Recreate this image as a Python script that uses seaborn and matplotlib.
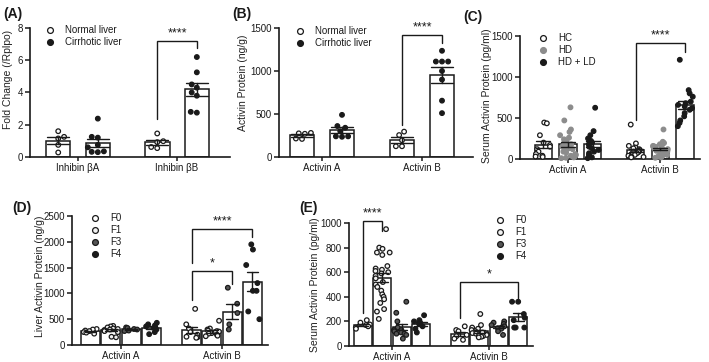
import numpy as np
import pandas as pd
import seaborn as sns
import matplotlib.pyplot as plt
from matplotlib.lines import Line2D
from matplotlib.colors import to_rgba

# ==============================
# Data
# ==============================
# (A) Fold change in liver tissue
a_cats = ['Inhibin βA', 'Inhibin βB']
a_groups = ['Normal liver', 'Cirrhotic liver']
a_normal_ba = [1.6, 1.25, 1.15, 0.75, 0.28]
a_cirr_ba = [2.38, 1.25, 1.2, 0.75, 0.6, 0.35, 0.32, 0.3]
a_normal_bb = [1.46, 0.98, 0.92, 0.62, 0.55]
a_cirr_bb = [6.2, 5.25, 4.5, 4.3, 4.0, 3.8, 2.8, 2.75]

# (B) Activin protein in liver tissue
b_cats = ['Activin A', 'Activin B']
b_groups = ['Normal liver', 'Cirrhotic liver']
b_normal_a = [280, 275, 270, 215, 210]
b_cirr_a = [490, 360, 340, 300, 240, 240, 235]
b_normal_b = [295, 255, 195, 125, 125]
b_cirr_b = [1235, 1110, 1110, 1110, 1000, 900, 655, 510]

# (C) Serum activin, HC / HD / HD + LD
c_cats = ['Activin A', 'Activin B']
c_groups = ['HC', 'HD', 'HD + LD']
c_hc_a = [445, 435, 290, 200, 170, 150, 120, 90, 60, 40, 30, 25]
c_hd_a = [630, 470, 360, 330, 290, 260, 240, 220, 200, 180, 170, 150,
          130, 120, 100, 90, 80, 60, 50, 40, 30, 20, 15, 10]
c_hdld_a = [625, 340, 290, 250, 220, 200, 180, 150, 130, 110, 90, 70, 50, 20, 10]
c_hc_b = [420, 190, 160, 140, 130, 120, 110, 100, 95, 90, 85, 80, 70, 60,
          50, 40, 30, 25, 20]
c_hd_b = [360, 210, 195, 180, 170, 160, 155, 150, 145, 140, 135, 130, 125,
          120, 115, 110, 105, 100, 95, 90, 85, 80, 75, 70, 60, 50, 40, 30, 20, 15]
c_hdld_b = [1210, 840, 800, 760, 700, 680, 660, 640, 620, 600, 560, 520, 470, 440, 400]

# (D) Liver activin by fibrosis stage
d_cats = ['Activin A', 'Activin B']
d_groups = ['F0', 'F1', 'F3', 'F4']
d_f0_a = [310, 300, 280, 270, 250, 240, 220]
d_f1_a = [370, 360, 340, 320, 310, 300, 290, 280, 270, 250, 160, 150]
d_f3_a = [340, 330, 310, 300, 280, 270]
d_f4_a = [430, 400, 380, 360, 330, 300, 250, 210]
d_f0_b = [700, 400, 320, 250, 200, 160, 150, 140]
d_f1_b = [470, 320, 300, 280, 270, 260, 250, 230, 220, 200, 180, 170]
d_f3_b = [1110, 800, 620, 400, 300]
d_f4_b = [1950, 1850, 1550, 1200, 1050, 1050, 650, 500]

# (E) Serum activin by fibrosis stage
e_cats = ['Activin A', 'Activin B']
e_groups = ['F0', 'F1', 'F3', 'F4']
e_f0_a = [210, 190, 175, 170, 160, 150, 140]
e_f1_a = [950, 800, 790, 760, 760, 740, 650, 630, 620, 610, 600, 590, 570,
          550, 520, 500, 480, 450, 420, 400, 380, 350, 300, 280, 220]
e_f3_a = [360, 270, 200, 150, 130, 130, 120, 110, 100, 100, 90, 60]
e_f4_a = [250, 210, 200, 190, 180, 160, 140, 110]
e_f0_b = [160, 130, 120, 90, 80, 60, 50]
e_f1_b = [260, 170, 150, 140, 130, 120, 110, 105, 100, 95, 90, 85, 80, 75, 70]
e_f3_b = [200, 190, 180, 170, 160, 150, 145, 140, 120, 90]
e_f4_b = [360, 360, 260, 230, 210, 150, 150, 150]

# significance brackets: (category, hue i, hue j, left foot, top, right foot, label)
a_brackets = [(1, 0, 1, 2.36, 7.18, 6.77, '****')]
b_brackets = [(1, 0, 1, 370, 1422, 1325, '****')]
c_brackets = [(1, 0, 2, 476, 1410, 1309, '****')]
d_brackets = [(1, 0, 2, 880, 1425, 1190, '*'), (1, 0, 3, 1585, 2250, 2100, '****')]
e_brackets = [(0, 0, 1, 266, 1014, 932, '****'), (1, 0, 3, 225, 523, 390, '*')]


# ==============================
# Style
# ==============================
sns.set_theme(style='ticks')
plt.rcParams['font.family'] = ['Liberation Sans', 'DejaVu Sans']
plt.rcParams['axes.linewidth'] = 1.2
plt.rcParams['axes.edgecolor'] = '#1a1a1a'
plt.rcParams['xtick.major.size'] = 3
plt.rcParams['ytick.major.size'] = 3.5
plt.rcParams['xtick.major.width'] = 1.1
plt.rcParams['ytick.major.width'] = 1.1
plt.rcParams['xtick.major.pad'] = 1.2
plt.rcParams['ytick.major.pad'] = 1.5

W, H = 709, 362
fig = plt.figure(figsize=(W / 100, H / 100), dpi=100)
FS = 7
np.random.seed(3)   # only for the horizontal jitter of the dense panels


def to_frame(cats, groups, series):
    rows = []
    for cat, per_group in zip(cats, series):
        for grp, vals in zip(groups, per_group):
            rows += [(cat, grp, v) for v in vals]
    return pd.DataFrame(rows, columns=['cat', 'grp', 'value'])


def slot_x(cat_i, hue_i, n):
    return cat_i - 0.4 + 0.4 / n + hue_i * 0.8 / n


def draw_panel(box, df, cats, groups, faces, edges, ymax, ystep, ylabel,
               label_xy, gap, brackets, legend_xy, letter, letter_xy, jitter=None):
    left, right, top, bottom, xlim = box
    ax = fig.add_axes([left / W, 1 - bottom / H, (right - left) / W, (bottom - top) / H])

    sns.barplot(data=df, x='cat', y='value', hue='grp', order=cats, hue_order=groups,
                palette={g: 'white' for g in groups}, edgecolor='#1a1a1a', linewidth=1.1,
                gap=gap, errorbar='se', capsize=0.45,
                err_kws={'color': '#1a1a1a', 'linewidth': 1.0}, legend=False, ax=ax)
    ax.set_xlim(*xlim)
    ax.set_ylim(0, ymax)
    n_before = len(ax.collections)
    point_kws = dict(data=df, x='cat', y='value', hue='grp', order=cats, hue_order=groups,
                     palette=dict(zip(groups, faces)), dodge=True, size=3.3,
                     edgecolor='#1a1a1a', linewidth=0.9, legend=False, ax=ax)
    if jitter is None:
        sns.swarmplot(warn_thresh=1, **point_kws)
    else:
        sns.stripplot(jitter=jitter, **point_kws)
    for coll in ax.collections[n_before:]:
        coll.set_clip_on(False)
        fc = coll.get_facecolor()
        if len(fc):
            for face, edge in zip(faces, edges):
                if np.allclose(fc[0], to_rgba(face)):
                    coll.set_edgecolor(edge)
    for ln in ax.lines:
        ln.set_zorder(4)

    ax.set_xlim(*xlim)
    ax.set_ylim(0, ymax)
    ax.set_yticks(np.arange(0, ymax + ystep / 2, ystep))
    ax.tick_params(labelsize=FS, colors='#1a1a1a')
    ax.set_xlabel('')
    ax.set_ylabel(ylabel, fontsize=7.5, color='#222222')
    ax.yaxis.set_label_coords(label_xy[0] / W, 1 - label_xy[1] / H, transform=fig.transFigure)
    sns.despine(ax=ax)

    n = len(groups)
    for ci, hi, hj, y1, yt, y2, lab in brackets:
        x1, x2 = slot_x(ci, hi, n), slot_x(ci, hj, n)
        ax.plot([x1, x1, x2, x2], [y1, yt, yt, y2], color='#1a1a1a', lw=1.0,
                clip_on=False, solid_joinstyle='miter')
        ax.text((x1 + x2) / 2, yt + ymax * 0.012, lab, ha='center', va='bottom',
                fontsize=9, color='#1a1a1a', clip_on=False)

    handles = [Line2D([], [], ls='', marker='o', markersize=4.2, markerfacecolor=f,
                      markeredgecolor=e, markeredgewidth=0.9) for f, e in zip(faces, edges)]
    ax.legend(handles, groups, loc='upper left', frameon=False, fontsize=FS,
              bbox_to_anchor=(legend_xy[0] / W, 1 - legend_xy[1] / H),
              bbox_transform=fig.transFigure, borderpad=0, borderaxespad=0,
              handlelength=1.0, handletextpad=1.05, labelspacing=0.22,
              labelcolor='#1a1a1a')

    fig.text(letter_xy[0] / W, 1 - letter_xy[1] / H, letter, fontsize=10,
             fontweight='bold', va='top', ha='left', color='#1a1a1a')
    return ax


# ==============================
# Panels
# ==============================
df_a = to_frame(a_cats, a_groups, [[a_normal_ba, a_cirr_ba], [a_normal_bb, a_cirr_bb]])
df_b = to_frame(b_cats, b_groups, [[b_normal_a, b_cirr_a], [b_normal_b, b_cirr_b]])
df_c = to_frame(c_cats, c_groups, [[c_hc_a, c_hd_a, c_hdld_a], [c_hc_b, c_hd_b, c_hdld_b]])
df_d = to_frame(d_cats, d_groups, [[d_f0_a, d_f1_a, d_f3_a, d_f4_a],
                                   [d_f0_b, d_f1_b, d_f3_b, d_f4_b]])
df_e = to_frame(e_cats, e_groups, [[e_f0_a, e_f1_a, e_f3_a, e_f4_a],
                                   [e_f0_b, e_f1_b, e_f3_b, e_f4_b]])

two_faces = ['white', '#1a1a1a']
two_edges = ['#1a1a1a', '#1a1a1a']
three_faces = ['white', '#8c8c8c', '#1a1a1a']
three_edges = ['#1a1a1a', '#8c8c8c', '#1a1a1a']
four_faces = ['white', '#f2f2f2', '#555555', '#1a1a1a']
four_edges = ['#1a1a1a', '#1a1a1a', '#1a1a1a', '#1a1a1a']

draw_panel((30, 230, 28, 157, (-0.485, 1.535)), df_a, a_cats, a_groups, two_faces, two_edges,
           8, 2, 'Fold Change (/Rplpo)', (13, 79), 0.38, a_brackets, (45, 25), '(A)', (3, 7))
draw_panel((279, 473, 28, 157, (-0.43, 1.51)), df_b, b_cats, b_groups, two_faces, two_edges,
           1500, 500, 'Activin Protein (ng/g)', (248, 83), 0.38, b_brackets, (295, 26), '(B)', (232, 7))
draw_panel((520, 700, 36, 159, (-0.52, 1.43)), df_c, c_cats, c_groups, three_faces, three_edges,
           1500, 500, 'Serum Activin Protein (pg/ml)', (492, 96), 0.3, c_brackets, (538, 33), '(C)', (463, 10),
           jitter=0.27)
draw_panel((72, 268, 216, 345, (-0.485, 1.455)), df_d, d_cats, d_groups, four_faces, four_edges,
           2500, 500, 'Liver Activin Protein (ng/g)', (45, 276), 0.06, d_brackets, (90, 213), '(D)', (12, 201),
           jitter=0.3)
draw_panel((349, 533, 223, 346, (-0.443, 1.454)), df_e, e_cats, e_groups, four_faces, four_edges,
           1000, 200, 'Serum Activin Protein (pg/ml)', (320, 285), 0.06, e_brackets, (495, 215), '(E)', (299, 201),
           jitter=0.32)

fig.savefig('out.png', dpi=100, facecolor='white')
